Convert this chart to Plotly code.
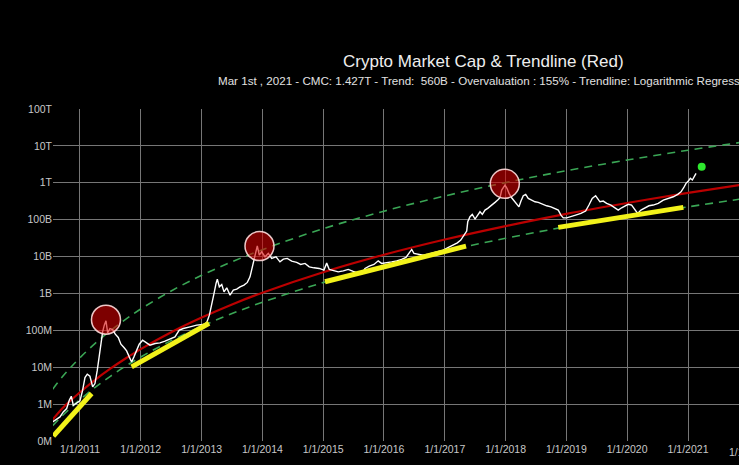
import datetime as dt
import plotly.graph_objects as go

# ---------------- data ----------------
# decimal years and total crypto market cap in USD
white_t = [2010.55, 2010.617, 2010.671, 2010.725, 2010.781, 2010.824, 2010.857, 2010.890, 2010.946, 2011.0,
           2011.044, 2011.082, 2011.120, 2011.164, 2011.209, 2011.247, 2011.285, 2011.317, 2011.345, 2011.373,
           2011.400, 2011.428, 2011.456, 2011.493, 2011.538, 2011.581, 2011.630, 2011.674, 2011.724, 2011.768,
           2011.811, 2011.850, 2011.888, 2011.933, 2011.975, 2012.031, 2012.086, 2012.151, 2012.234, 2012.316,
           2012.398, 2012.480, 2012.562, 2012.633, 2012.699, 2012.809, 2012.919, 2013.028, 2013.084, 2013.127,
           2013.166, 2013.204, 2013.237, 2013.258, 2013.291, 2013.331, 2013.368, 2013.413, 2013.467, 2013.521,
           2013.577, 2013.632, 2013.697, 2013.752, 2013.796, 2013.829, 2013.862, 2013.895, 2013.916, 2013.949,
           2013.988, 2014.043, 2014.097, 2014.153, 2014.224, 2014.289, 2014.344, 2014.409, 2014.482, 2014.564,
           2014.630, 2014.701, 2014.771, 2014.849, 2014.936, 2015.013, 2015.058, 2015.100, 2015.166, 2015.248,
           2015.331, 2015.413, 2015.495, 2015.577, 2015.633, 2015.688, 2015.758, 2015.836, 2015.906, 2015.962,
           2016.044, 2016.127, 2016.209, 2016.291, 2016.362, 2016.416, 2016.456, 2016.493, 2016.564, 2016.646,
           2016.729, 2016.811, 2016.893, 2016.975, 2017.058, 2017.140, 2017.206, 2017.262, 2017.316, 2017.360,
           2017.377, 2017.414, 2017.452, 2017.497, 2017.541, 2017.579, 2017.617, 2017.661, 2017.706, 2017.743,
           2017.781, 2017.826, 2017.870, 2017.908, 2017.936, 2017.969, 2017.990, 2018.023, 2018.056, 2018.100,
           2018.143, 2018.188, 2018.220, 2018.253, 2018.291, 2018.331, 2018.373, 2018.429, 2018.484, 2018.538,
           2018.604, 2018.676, 2018.747, 2018.812, 2018.867, 2018.911, 2018.949, 2019.005, 2019.076, 2019.153,
           2019.240, 2019.317, 2019.372, 2019.426, 2019.482, 2019.515, 2019.553, 2019.607, 2019.663, 2019.734,
           2019.799, 2019.854, 2019.910, 2019.964, 2020.018, 2020.074, 2020.128, 2020.173, 2020.227, 2020.293,
           2020.359, 2020.429, 2020.511, 2020.594, 2020.676, 2020.758, 2020.831, 2020.885, 2020.929, 2020.967,
           2021.005, 2021.038, 2021.071, 2021.104, 2021.132]
white_v = [3.29e5, 3.82e5, 4.49e5, 6.14e5, 7.59e5, 1.27e6, 1.64e6, 9.3e5, 1.08e6, 1.22e6,
           2.38e6, 5.26e6, 6.47e6, 5.70e6, 2.92e6, 3.61e6, 8.30e6, 2.12e7, 5.41e7, 9.08e7,
           1.38e8, 1.81e8, 8.53e7, 1.12e8, 1.05e8, 7.87e7, 6.40e7, 4.21e7, 3.43e7, 2.77e7,
           1.91e7, 1.39e7, 1.91e7, 2.77e7, 4.21e7, 5.41e7, 4.57e7, 3.96e7, 4.40e7, 4.57e7,
           5.08e7, 5.86e7, 6.65e7, 1.01e8, 1.12e8, 1.24e8, 1.38e8, 1.44e8, 1.63e8, 2.58e8,
           4.82e8, 1.0e9, 1.87e9, 2.44e9, 1.51e9, 1.75e9, 1.10e9, 1.42e9, 8.99e8, 1.23e9,
           1.31e9, 1.51e9, 1.68e9, 1.99e9, 2.82e9, 4.76e9, 8.0e9, 1.22e10, 1.95e10, 1.09e10,
           1.35e10, 9.84e9, 1.22e10, 8.91e9, 9.84e9, 7.2e9, 8.52e9, 8.91e9, 7.52e9, 6.93e9,
           6.12e9, 6.52e9, 5.27e9, 4.95e9, 4.76e9, 4.29e9, 6.64e9, 4.48e9, 4.10e9, 3.85e9,
           4.10e9, 4.48e9, 3.95e9, 3.62e9, 3.34e9, 4.76e9, 5.51e9, 6.12e9, 7.66e9, 6.52e9,
           6.76e9, 7.2e9, 7.66e9, 8.36e9, 9.48e9, 1.22e10, 1.56e10, 1.22e10, 1.16e10, 1.09e10,
           1.16e10, 1.26e10, 1.35e10, 1.50e10, 1.77e10, 2.04e10, 2.36e10, 2.79e10, 3.82e10, 4.90e10,
           8.75e10, 1.20e11, 1.39e11, 1.04e11, 1.33e11, 1.64e11, 1.39e11, 1.82e11, 2.02e11, 2.23e11,
           2.60e11, 2.94e11, 3.40e11, 3.93e11, 6.34e11, 7.80e11, 8.67e11, 7.06e11, 5.16e11, 3.93e11,
           3.19e11, 2.49e11, 2.23e11, 3.19e11, 4.45e11, 4.85e11, 3.78e11, 3.40e11, 3.05e11, 2.94e11,
           2.60e11, 2.38e11, 2.23e11, 2.02e11, 1.82e11, 1.33e11, 1.12e11, 1.12e11, 1.20e11, 1.33e11,
           1.48e11, 1.71e11, 2.49e11, 3.78e11, 4.45e11, 3.78e11, 3.05e11, 3.19e11, 2.77e11, 2.49e11,
           2.10e11, 1.82e11, 2.10e11, 2.38e11, 2.60e11, 2.49e11, 1.94e11, 1.48e11, 1.82e11, 2.10e11,
           2.38e11, 2.49e11, 2.77e11, 3.40e11, 3.78e11, 4.18e11, 4.85e11, 5.70e11, 7.33e11, 9.64e11,
           1.11e12, 1.32e12, 1.19e12, 1.55e12, 1.80e12]

# trendline (red) and bands (green dashed)
trend_t = [2010.55, 2010.70, 2010.85, 2011.0, 2011.25, 2011.5, 2011.75, 2012.0, 2012.5, 2013.0,
           2013.5, 2014.0, 2015.0, 2016.0, 2017.0, 2018.0, 2019.0, 2020.0, 2021.0, 2021.85]
trend_v = [3.77e5, 7.40e5, 1.27e6, 2.10e6, 4.56e6, 9.12e6, 1.72e7, 3.10e7, 8.85e7, 2.22e8,
           5.04e8, 1.05e9, 3.76e9, 1.12e10, 2.90e10, 6.70e10, 1.44e11, 2.83e11, 5.33e11, 8.73e11]
upper_v = [2.53e6, 5.23e6, 1.0e7, 1.81e7, 4.43e7, 9.72e7, 1.98e8, 3.78e8, 1.17e9, 3.10e9,
           7.24e9, 1.54e10, 5.69e10, 1.70e11, 4.39e11, 1.01e12, 2.12e12, 4.13e12, 7.62e12, 1.23e13]
lower_v = [2.59e5, 4.66e5, 7.98e5, 1.32e6, 2.85e6, 5.68e6, 1.07e7, 1.89e7, 5.27e7, 1.29e8,
           2.85e8, 5.77e8, 1.98e9, 5.64e9, 1.40e10, 3.13e10, 6.45e10, 1.24e11, 2.23e11, 3.60e11]

# yellow support segments: start / end
support_t0 = [2010.562, 2011.850, 2015.030, 2018.867]
support_v0 = [1.37e5, 1.02e7, 2.07e9, 6.18e10]
support_t1 = [2011.192, 2013.122, 2017.349, 2020.923]
support_v1 = [1.94e6, 1.56e8, 1.92e10, 2.15e11]

# cycle tops (red circles) and projection point (green dot)
peak_t = [2011.428, 2013.952, 2017.987]
peak_v = [1.95e8, 1.92e10, 9.40e11]
proj_t = [2021.225]
proj_v = [2.72e12]

y_tickvals = [1e5, 1e6, 1e7, 1e8, 1e9, 1e10, 1e11, 1e12, 1e13, 1e14]
y_ticktext = ["0M", "1M", "10M", "100M", "1B", "10B", "100B", "1T", "10T", "100T"]

title_text = "Crypto Market Cap & Trendline (Red)"
subtitle_text = ("Mar 1st , 2021 - CMC: 1.427T - Trend:  560B - Overvaluation : 155% - "
                 "Trendline: Logarithmic Regression")
x_start, x_end = 2010.556, 2021.839


def to_date(d):
    y = int(d)
    a = dt.datetime(y, 1, 1)
    b = dt.datetime(y + 1, 1, 1)
    return a + (b - a) * (d - y)


def dates(lst):
    return [to_date(v) for v in lst]


FONT = "Liberation Sans, Arial, sans-serif"
fig = go.Figure()

tt = dates(trend_t)
fig.add_trace(go.Scatter(x=tt, y=upper_v, mode="lines", line=dict(color="#3aa655", width=1.6, dash="8px,6px", shape="spline"), hoverinfo="skip"))
fig.add_trace(go.Scatter(x=tt, y=lower_v, mode="lines", line=dict(color="#3aa655", width=1.6, dash="8px,6px", shape="spline"), hoverinfo="skip"))
fig.add_trace(go.Scatter(x=tt, y=trend_v, mode="lines", line=dict(color="#bb0000", width=2.2, shape="spline"), hoverinfo="skip"))
fig.add_trace(go.Scatter(x=dates(white_t), y=white_v, mode="lines", line=dict(color="#ffffff", width=1.4)))

for t0, v0, t1, v1 in zip(support_t0, support_v0, support_t1, support_v1):
    fig.add_trace(go.Scatter(x=[to_date(t0), to_date(t1)], y=[v0, v1], mode="lines",
                             line=dict(color="#f2f21a", width=5), hoverinfo="skip"))

fig.add_trace(go.Scatter(x=dates(peak_t), y=peak_v, mode="markers",
                         marker=dict(size=29, color="rgba(215,0,0,0.58)",
                                     line=dict(color="rgba(255,220,220,0.9)", width=1.5))))
fig.add_trace(go.Scatter(x=dates(proj_t), y=proj_v, mode="markers",
                         marker=dict(size=8, color="#2ee82e", line=dict(width=0))))

grid = "#767676"
fig.update_layout(
    width=739, height=465,
    margin=dict(l=53, r=0, t=109, b=24),
    paper_bgcolor="#000000", plot_bgcolor="#000000",
    showlegend=False,
    font=dict(family=FONT, color="#c8c8c8", size=10.5),
    xaxis=dict(type="date", range=[to_date(x_start), to_date(x_end)],
               tick0="2011-01-01", dtick="M12", tickformat="%-m/%-d/%Y",
               showgrid=True, gridcolor=grid, gridwidth=1, zeroline=False, showline=False,
               ticks="", tickfont=dict(size=10.5, color="#c8c8c8")),
    yaxis=dict(type="log", range=[5, 14], tickvals=y_tickvals, ticktext=y_ticktext,
               showgrid=True, gridcolor=grid, gridwidth=1, zeroline=False, showline=False,
               ticks="", tickfont=dict(size=10.5, color="#c8c8c8")),
    annotations=[
        dict(text=title_text, xref="paper", yref="paper", x=0.6276, y=1.1416,
             xanchor="center", yanchor="middle", showarrow=False,
             font=dict(family=FONT, size=17, color="#eeeeee")),
        dict(text=subtitle_text, xref="paper", yref="paper", x=0.2376, y=1.0873,
             xanchor="left", yanchor="middle", showarrow=False,
             font=dict(family=FONT, size=11.6, color="#e2e2e2")),
        dict(text="1/1/2022", xref="paper", yref="paper", x=1.0146, y=-0.033,
             xanchor="center", yanchor="middle", showarrow=False,
             font=dict(family=FONT, size=10.5, color="#c8c8c8")),
    ],
)

fig.write_html("out.html")
